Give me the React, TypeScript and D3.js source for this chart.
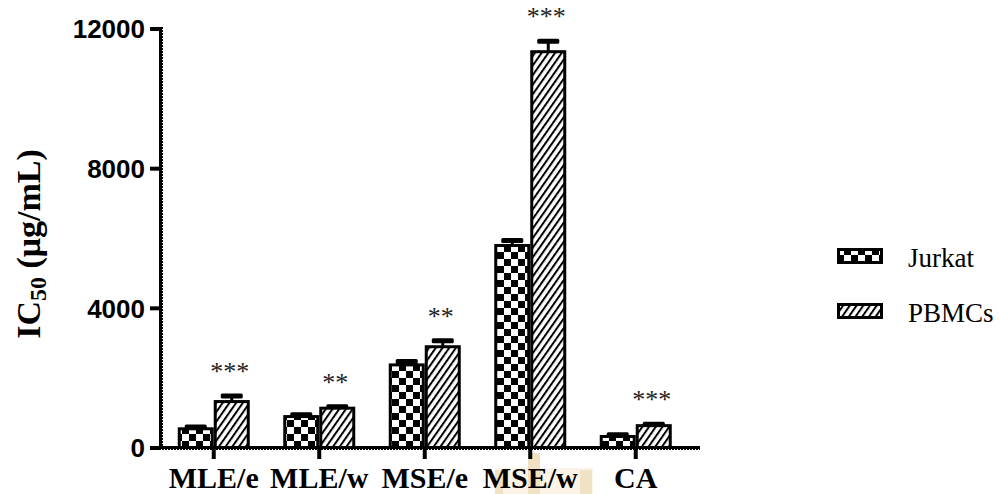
import React from "react";
import * as d3 from "d3";

const categories = ["MLE/e", "MLE/w", "MSE/e", "MSE/w", "CA"];
const seriesNames = ["Jurkat", "PBMCs"];
const jurkatValues = [550, 900, 2380, 5800, 330];
const jurkatErrors = [50, 50, 100, 140, 50];
const pbmcValues = [1330, 1140, 2900, 11350, 640];
const pbmcErrors = [160, 40, 170, 300, 40];
const significance = ["***", "**", "**", "***", "***"];
const yTicks = [0, 4000, 8000, 12000];

const W = 999;
const H = 494;
const AX_X = 161;
const AX_Y = 448;
const AX_TOP = 29;
const AX_RIGHT = 700;

export default function App() {
  const x = d3.scaleBand<string>().domain(categories).range([AX_X, 688.5]).padding(0);
  const sub = d3.scaleBand<string>().domain(seriesNames).range([-36, 36]).padding(0);
  const y = d3.scaleLinear().domain([0, 12000]).range([AX_Y, AX_TOP]);
  const cx = (c: string) => (x(c) as number) + x.bandwidth() / 2;

  const series = [
    { name: "Jurkat", values: jurkatValues, errors: jurkatErrors, fill: "url(#checker)" },
    { name: "PBMCs", values: pbmcValues, errors: pbmcErrors, fill: "url(#hatch)" },
  ];
  const bw = sub.bandwidth();
  const serif = "'Liberation Serif', 'Times New Roman', serif";
  const sans = "'Liberation Sans', Arial, sans-serif";

  return (
    <div style={{ position: "fixed", left: 0, top: 0 }}>
      <svg width={W} height={H} style={{ display: "block", background: "#fff" }}>
        <defs>
          <pattern id="checker" patternUnits="userSpaceOnUse" width={14} height={14}>
            <rect width={14} height={14} fill="#000" />
            <rect x={0} y={0} width={7} height={7} fill="#fff" />
            <rect x={7} y={7} width={7} height={7} fill="#fff" />
          </pattern>
          <pattern id="hatch" patternUnits="userSpaceOnUse" width={5.5} height={10} patternTransform="rotate(35)">
            <rect width={5.5} height={10} fill="#fff" />
            <line x1={1} y1={0} x2={1} y2={10} stroke="#000" strokeWidth={2} />
          </pattern>
        </defs>

        {/* faint watermark */}
        <g>
          <rect x={495} y={468} width={98} height={26} fill="#faf3e6" />
          <rect x={495} y={470} width={8} height={24} fill="#f2e2c4" />
          <rect x={528} y={453} width={12} height={41} fill="#f2e2c4" />
          <rect x={580} y={470} width={12} height={24} fill="#f2e2c4" />
        </g>

        {/* bars */}
        {series.map((s) => (
          <g key={s.name}>
            {categories.map((c, i) => {
              const bx = cx(c) + (sub(s.name) as number);
              const v = s.values[i];
              const e = s.errors[i];
              const mid = bx + bw / 2;
              return (
                <g key={c}>
                  <line x1={mid} x2={mid} y1={y(v)} y2={y(v + e)} stroke="#000" strokeWidth={3} />
                  <rect x={mid - 11} y={y(v + e) - 2.5} width={22} height={5} rx={1.5} fill="#000" />
                  <rect
                    x={bx + 1.5}
                    y={y(v)}
                    width={bw - 3}
                    height={AX_Y - y(v)}
                    fill={s.fill}
                    stroke="#000"
                    strokeWidth={3}
                  />
                </g>
              );
            })}
          </g>
        ))}

        {/* significance */}
        {categories.map((c, i) => {
          const mid = cx(c) + (sub("PBMCs") as number) + bw / 2;
          const top = y(pbmcValues[i] + pbmcErrors[i]);
          return (
            <text
              key={c}
              x={mid - 2}
              y={top - 28 + 12}
              textAnchor="middle"
              fontFamily={serif}
              fontSize={26}
              fill="#222"
            >
              {significance[i]}
            </text>
          );
        })}

        {/* y axis */}
        <line x1={AX_X} x2={AX_X} y1={AX_TOP - 2} y2={AX_Y + 2} stroke="#000" strokeWidth={4} />
        <line x1={AX_X + 1.5} x2={AX_X + 1.5} y1={AX_TOP} y2={AX_Y} stroke="#fff" strokeWidth={1} strokeDasharray="1 2" />
        {yTicks.map((t) => (
          <g key={t}>
            <line x1={150} x2={AX_X} y1={y(t)} y2={y(t)} stroke="#000" strokeWidth={4} />
            <text
              x={145}
              y={y(t)}
              dy="0.36em"
              textAnchor="end"
              fontFamily={sans}
              fontWeight="bold"
              fontSize={26}
              fill="#000"
            >
              {t}
            </text>
          </g>
        ))}

        {/* x axis */}
        <line x1={AX_X - 2} x2={AX_RIGHT} y1={AX_Y} y2={AX_Y} stroke="#000" strokeWidth={4} />
        <line x1={AX_X} x2={AX_RIGHT} y1={AX_Y + 1.5} y2={AX_Y + 1.5} stroke="#fff" strokeWidth={1} strokeDasharray="1 2" />
        {categories.map((c) => (
          <g key={c}>
            <line x1={cx(c)} x2={cx(c)} y1={AX_Y} y2={AX_Y + 11} stroke="#000" strokeWidth={4} />
            <text
              x={cx(c)}
              y={488}
              textAnchor="middle"
              fontFamily={serif}
              fontWeight="bold"
              fontSize={30}
              fill="#000"
            >
              {c}
            </text>
          </g>
        ))}

        {/* y title */}
        <text
          transform={`translate(40, 244) rotate(-90)`}
          textAnchor="middle"
          fontFamily={serif}
          fontWeight="bold"
          fontSize={34}
          fill="#000"
        >
          IC
          <tspan fontSize={24} dy={6}>50</tspan>
          <tspan dy={-6}> (μg/mL)</tspan>
        </text>

        {/* legend */}
        {seriesNames.map((n, i) => (
          <g key={n} transform={`translate(837, ${248 + i * 55})`}>
            <rect x={1.5} y={1.5} width={43} height={13} fill={i === 0 ? "url(#checker)" : "url(#hatch)"} stroke="#000" strokeWidth={3} />
            <text x={71} y={19} fontFamily={serif} fontSize={27} fill="#000">
              {n}
            </text>
          </g>
        ))}
      </svg>
    </div>
  );
}
